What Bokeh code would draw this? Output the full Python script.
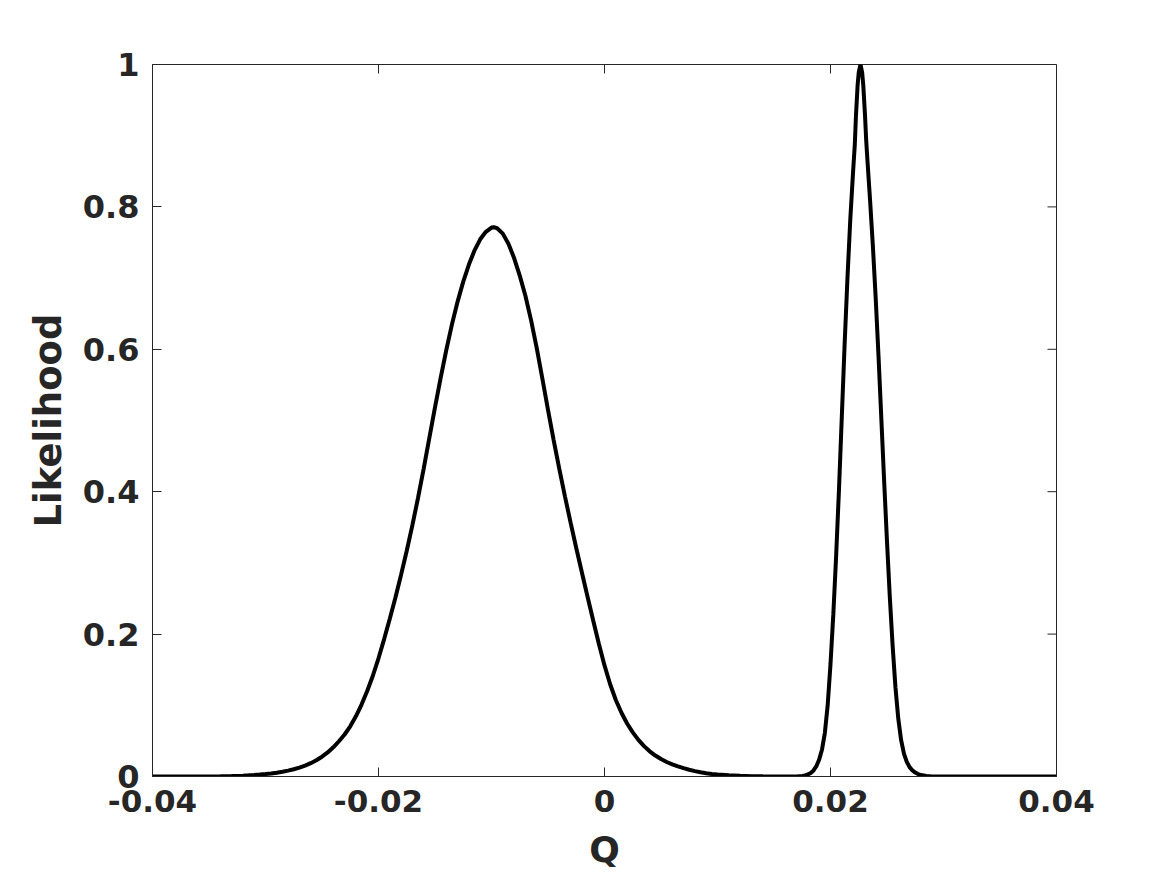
from bokeh.plotting import figure
from bokeh.models import FixedTicker, Range1d
from bokeh.embed import file_html
from bokeh.resources import INLINE

# Data (Q, likelihood)
q_values = [
    -0.0400, -0.0380, -0.0360, -0.0340, -0.0330, -0.0320, -0.0315, -0.0310,
    -0.0305, -0.0300, -0.0295, -0.0290, -0.0285, -0.0280, -0.0275, -0.0270,
    -0.0265, -0.0260, -0.0255, -0.0250, -0.0245, -0.0240, -0.0235, -0.0230,
    -0.0225, -0.0220, -0.0215, -0.0210, -0.0205, -0.0200, -0.0195, -0.0190,
    -0.0185, -0.0180, -0.0175, -0.0170, -0.0165, -0.0160, -0.0155, -0.0150,
    -0.0145, -0.0140, -0.0135, -0.0130, -0.0125, -0.0120, -0.0115, -0.0110,
    -0.0105, -0.0100, -0.0098, -0.0095, -0.0090, -0.0085, -0.0080, -0.0075,
    -0.0070, -0.0065, -0.0060, -0.0055, -0.0050, -0.0045, -0.0040, -0.0035,
    -0.0030, -0.0025, -0.0020, -0.0015, -0.0010, -0.0005, 0.0000, 0.0005,
    0.0010, 0.0015, 0.0020, 0.0025, 0.0030, 0.0035, 0.0040, 0.0045,
    0.0050, 0.0055, 0.0060, 0.0065, 0.0070, 0.0075, 0.0080, 0.0085,
    0.0090, 0.0095, 0.0100, 0.0110, 0.0120, 0.0130, 0.0140, 0.0150,
    0.0160, 0.0170, 0.01750, 0.01775, 0.01800, 0.01825, 0.01850, 0.01875,
    0.01900, 0.01925, 0.01950, 0.01975, 0.02000, 0.02025, 0.02050, 0.02075,
    0.02100, 0.02125, 0.02150, 0.02175, 0.02200, 0.02215, 0.02225, 0.02240,
    0.02250, 0.02265, 0.02280, 0.02290, 0.02305, 0.02316, 0.02325, 0.02350,
    0.02375, 0.02400, 0.02425, 0.02450, 0.02475, 0.02500, 0.02525, 0.02550,
    0.02575, 0.02600, 0.02625, 0.02650, 0.02675, 0.02700, 0.02725, 0.02750,
    0.02775, 0.02800, 0.02850, 0.02900, 0.03000, 0.03500, 0.04000,
]
likelihood = [
    0.0000, 0.0000, 0.0001, 0.0004, 0.0007, 0.0012, 0.0016, 0.0021,
    0.0027, 0.0034, 0.0043, 0.0054, 0.0067, 0.0083, 0.0102, 0.0125,
    0.0153, 0.0187, 0.0228, 0.0278, 0.0338, 0.0410, 0.0495, 0.0590,
    0.0705, 0.0845, 0.1010, 0.1200, 0.1415, 0.1660, 0.1930, 0.2215,
    0.2515, 0.2835, 0.3170, 0.3530, 0.3915, 0.4325, 0.4755, 0.5185,
    0.5600, 0.5990, 0.6350, 0.6670, 0.6950, 0.7190, 0.7390, 0.7545,
    0.7650, 0.7710, 0.7715, 0.7700, 0.7625, 0.7482, 0.7282, 0.7035,
    0.6752, 0.6410, 0.6020, 0.5590, 0.5150, 0.4725, 0.4320, 0.3935,
    0.3565, 0.3210, 0.2865, 0.2525, 0.2190, 0.1865, 0.1560, 0.1295,
    0.1075, 0.0895, 0.0745, 0.0620, 0.0515, 0.0427, 0.0354, 0.0294,
    0.0245, 0.0204, 0.0170, 0.0142, 0.0117, 0.0095, 0.0076, 0.0060,
    0.0047, 0.0036, 0.0028, 0.0016, 0.0009, 0.0004, 0.0002, 0.0001,
    0.0000, 0.0000, 0.0008, 0.0015, 0.0028, 0.0050, 0.0085, 0.0145,
    0.0240, 0.0380, 0.0610, 0.1000, 0.1580, 0.2280, 0.3100, 0.4030,
    0.5050, 0.6070, 0.7000, 0.7820, 0.8500, 0.8870, 0.9270, 0.9710,
    0.9890, 1.0000, 0.9890, 0.9710, 0.9300, 0.8930, 0.8700, 0.8100,
    0.7450, 0.6720, 0.5900, 0.5020, 0.4140, 0.3300, 0.2520, 0.1830,
    0.1250, 0.0810, 0.0510, 0.0320, 0.0205, 0.0132, 0.0085, 0.0055,
    0.0034, 0.0020, 0.0006, 0.0001, 0.0000, 0.0000, 0.0000,
]
x_ticks = [-0.04, -0.02, 0, 0.02, 0.04]
x_tick_labels = ["-0.04", "-0.02", "0", "0.02", "0.04"]
y_ticks = [0, 0.2, 0.4, 0.6, 0.8, 1.0]
y_tick_labels = ["0", "0.2", "0.4", "0.6", "0.8", "1"]
x_min, x_max = -0.04, 0.04
y_min, y_max = 0.0, 1.0

TXT = "#262626"
FONT = "DejaVu Sans"

p = figure(width=1167, height=875, output_backend="svg", toolbar_location=None,
           x_range=Range1d(x_min, x_max), y_range=Range1d(y_min, y_max),
           min_border_left=152, min_border_right=111, min_border_top=64,
           min_border_bottom=99)
p.grid.visible = False
p.outline_line_color = TXT
p.outline_line_width = 1
p.background_fill_color = "white"
p.border_fill_color = "white"

p.line(q_values, likelihood, line_color="black", line_width=4)

# inward ticks on the top and right edges of the box (MATLAB "box on")
tick_dx = (x_max - x_min) * 9 / 904
tick_dy = (y_max - y_min) * 9 / 712
p.segment(x0=x_ticks, y0=[y_max] * len(x_ticks), x1=x_ticks,
          y1=[y_max - tick_dy] * len(x_ticks), line_color=TXT, line_width=1)
p.segment(x0=[x_max] * len(y_ticks), y0=y_ticks,
          x1=[x_max - tick_dx] * len(y_ticks), y1=y_ticks,
          line_color=TXT, line_width=1)

def style(ax, ticks, labels, size):
    ax.ticker = FixedTicker(ticks=ticks)
    ax.major_label_overrides = {t: l for t, l in zip(ticks, labels)}
    ax.minor_tick_line_color = None
    ax.major_tick_in = 9
    ax.major_tick_out = 0
    ax.major_tick_line_color = TXT
    ax.axis_line_color = TXT
    ax.major_label_text_font = FONT
    ax.major_label_text_font_style = "bold"
    ax.major_label_text_color = TXT
    ax.major_label_text_font_size = size

xa = p.xaxis[0]
style(xa, x_ticks, x_tick_labels, "31px")
xa.major_label_standoff = 13
xa.axis_label = "Q"
xa.axis_label_text_font = FONT
xa.axis_label_text_font_style = "bold"
xa.axis_label_text_font_size = "36px"
xa.axis_label_text_color = TXT
xa.axis_label_standoff = 14

ya = p.yaxis[0]
style(ya, y_ticks, y_tick_labels, "32px")
ya.major_label_standoff = 13
ya.axis_label = "Likelihood"
ya.axis_label_text_font = FONT
ya.axis_label_text_font_style = "bold"
ya.axis_label_text_font_size = "37px"
ya.axis_label_text_color = TXT
ya.axis_label_standoff = 10

open("out.html", "w").write(file_html(p, INLINE))
